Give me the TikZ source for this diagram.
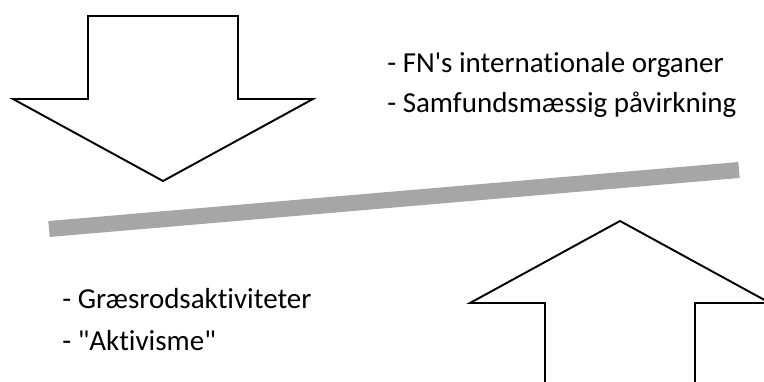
\documentclass[tikz,border=0pt]{standalone}
\usepackage{fontspec}
\setmainfont{Carlito}[Ligatures={TeXOff,NoCommon}]
\usetikzlibrary{positioning}

\begin{document}
\begin{tikzpicture}[x=0.02cm,y=-0.02cm]
    \pgfmathsetmacro{\shafthalf}{75}
    \pgfmathsetmacro{\winghalf}{150}
    \pgfmathsetmacro{\headdepth}{82}
    \pgfmathsetmacro{\downx}{163}  % centre of the arrow from above
    \pgfmathsetmacro{\upx}{620}    % centre of the arrow from below
    \providecommand{\labelfontsize}{\fontsize{16.5pt}{20pt}\selectfont}
    \useasboundingbox (0,0) rectangle (764,382);
    \clip (0,0) rectangle (764,382);
    \draw[line width=9.1pt,color={rgb,255:red,166;green,166;blue,166}] (49,229) -- (739,170);
    \draw[line width=1.1pt,line join=miter] (\downx-\shafthalf,16) -- (\downx+\shafthalf,16) -- (\downx+\shafthalf,99) -- (\downx+\winghalf,99) -- (\downx,99+\headdepth) -- (\downx-\winghalf,99) -- (\downx-\shafthalf,99) -- cycle;
    \draw[line width=1.1pt,line join=miter] (\upx-\shafthalf,400) -- (\upx-\shafthalf,303) -- (\upx-\winghalf,303) -- (\upx,303-\headdepth) -- (\upx+\winghalf,303) -- (\upx+\shafthalf,303) -- (\upx+\shafthalf,400);
    \node[anchor=base west,inner sep=0] (fn) at (387,72) {\labelfontsize - FN's internationale organer};
    \node[anchor=base west,inner sep=0] (samfund) at (387,112) {\labelfontsize - Samfundsmæssig påvirkning};
    \node[anchor=base west,inner sep=0] (graesrod) at (62,308) {\labelfontsize - Græsrodsaktiviteter};
    \node[anchor=base west,inner sep=0] (aktivisme) at (62,350) {\labelfontsize - "Aktivisme"};
\end{tikzpicture}
\end{document}
